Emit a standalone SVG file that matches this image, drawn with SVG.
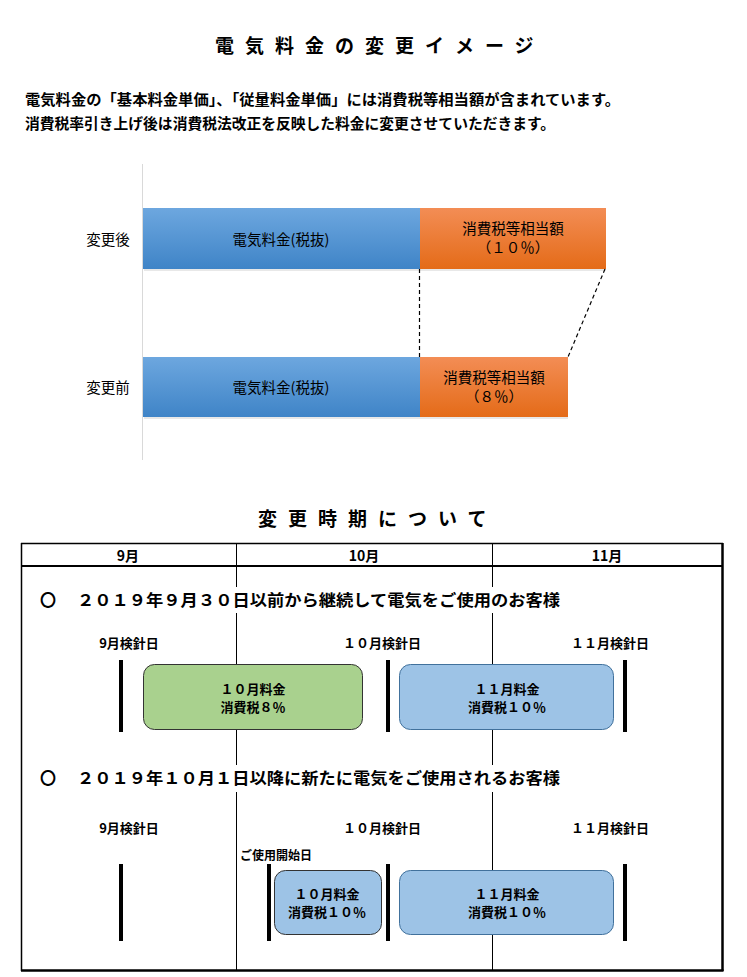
<svg xmlns="http://www.w3.org/2000/svg" width="747" height="977" viewBox="0 0 747 977">
<defs>
<linearGradient id="gBlue" x1="0" y1="0" x2="0" y2="1"><stop offset="0" stop-color="#6DA7DF"/><stop offset="1" stop-color="#3F84C7"/></linearGradient>
<linearGradient id="gOrange" x1="0" y1="0" x2="0" y2="1"><stop offset="0" stop-color="#F38D55"/><stop offset="1" stop-color="#E46B18"/></linearGradient>
<style>
text{font-family:"Noto Sans CJK JP","Noto Sans",sans-serif;fill:#000}
.title{font-size:19px;font-weight:bold;letter-spacing:11px}
.para{font-size:14.5px;font-weight:bold}
.lbl{font-size:14.5px;text-anchor:middle}
.hdr{font-size:14px;font-weight:bold;text-anchor:middle}
.row{font-size:16px;font-weight:bold}
.meter{font-size:13px;font-weight:bold;text-anchor:middle}
.box{font-size:13px;font-weight:bold;text-anchor:middle}
.thin{stroke:#000;stroke-width:1}
.bar{stroke:#000;stroke-width:4}
.dash{stroke:#000;stroke-width:1.2;stroke-dasharray:4 3;fill:none}
</style>
</defs>
<rect width="747" height="977" fill="#fff"/>

<g id="header">
<text class="title" x="215" y="53">電気料金の変更イメージ</text>
<text class="para" x="25" y="105" textLength="595" lengthAdjust="spacingAndGlyphs">電気料金の「基本料金単価」、「従量料金単価」には消費税等相当額が含まれています。</text>
<text class="para" x="25" y="129" textLength="530" lengthAdjust="spacingAndGlyphs">消費税率引き上げ後は消費税法改正を反映した料金に変更させていただきます。</text>
</g>

<g id="chart">
<line x1="142.5" y1="164" x2="142.5" y2="460" stroke="#D9D9D9" stroke-width="1"/>
<text class="lbl" x="108" y="245">変更後</text>
<text class="lbl" x="108" y="393">変更前</text>
<g id="bar-after">
<rect x="144" y="210" width="462" height="61" fill="#E8E8E8"/>
<rect x="143" y="208" width="277" height="61" fill="url(#gBlue)"/>
<rect x="420" y="208" width="186" height="61" fill="url(#gOrange)"/>
<text class="lbl" x="281" y="245">電気料金(税抜)</text>
<text class="lbl" x="513" y="234">消費税等相当額</text>
<text class="lbl" x="513" y="253">（１０％）</text>
</g>
<g id="bar-before">
<rect x="144" y="359" width="424" height="60" fill="#E8E8E8"/>
<rect x="143" y="357" width="277" height="60" fill="url(#gBlue)"/>
<rect x="420" y="357" width="148" height="60" fill="url(#gOrange)"/>
<text class="lbl" x="281" y="393">電気料金(税抜)</text>
<text class="lbl" x="494" y="383">消費税等相当額</text>
<text class="lbl" x="494" y="402">（８％）</text>
</g>
<g id="connectors">
<line class="dash" x1="419.5" y1="269" x2="419.5" y2="357"/>
<line class="dash" x1="605" y1="269" x2="568" y2="357"/>
</g>
</g>

<g id="schedule">
<text class="title" x="258" y="526">変更時期について</text>
<g id="table">
<line x1="21" y1="543.5" x2="723" y2="543.5" stroke="#000" stroke-width="1.5"/>
<line x1="21.5" y1="543" x2="21.5" y2="971" stroke="#000" stroke-width="1.5"/>
<line x1="722.5" y1="543" x2="722.5" y2="971" stroke="#000" stroke-width="2.5"/>
<line x1="21" y1="970.5" x2="723.5" y2="970.5" stroke="#000" stroke-width="2.5"/>
<line x1="21" y1="566" x2="723" y2="566" stroke="#000" stroke-width="2"/>
<line class="thin" x1="236.5" y1="543" x2="236.5" y2="587"/>
<line class="thin" x1="236.5" y1="613" x2="236.5" y2="765"/>
<line class="thin" x1="236.5" y1="792" x2="236.5" y2="970"/>
<line class="thin" x1="492.5" y1="543" x2="492.5" y2="587"/>
<line class="thin" x1="492.5" y1="613" x2="492.5" y2="765"/>
<line class="thin" x1="492.5" y1="792" x2="492.5" y2="970"/>
<text class="hdr" x="128" y="561">9月</text>
<text class="hdr" x="364" y="561">10月</text>
<text class="hdr" x="607" y="561">11月</text>
</g>

<g id="case1">
<text class="row" x="40" y="606">〇</text>
<text class="row" x="77" y="606" textLength="483" lengthAdjust="spacingAndGlyphs">２０１９年９月３０日以前から継続して電気をご使用のお客様</text>
<text class="meter" x="129" y="648">9月検針日</text>
<text class="meter" x="382" y="648">１０月検針日</text>
<text class="meter" x="610" y="648">１１月検針日</text>
<line class="bar" x1="121" y1="660" x2="121" y2="732"/>
<line class="bar" x1="388" y1="660" x2="388" y2="732"/>
<line class="bar" x1="625" y1="660" x2="625" y2="732"/>
<g id="c1-oct">
<rect x="143.5" y="664.5" width="219" height="65" rx="11" fill="#A9D18E" stroke="#333" stroke-width="1"/>
<text class="box" x="253" y="694">１０月料金</text>
<text class="box" x="253" y="712">消費税８％</text>
</g>
<g id="c1-nov">
<rect x="399.5" y="664.5" width="214" height="65" rx="11" fill="#9DC3E6" stroke="#41719C" stroke-width="1"/>
<text class="box" x="507" y="694">１１月料金</text>
<text class="box" x="507" y="712">消費税１０％</text>
</g>
</g>

<g id="case2">
<text class="row" x="40" y="784">〇</text>
<text class="row" x="77" y="784" textLength="483" lengthAdjust="spacingAndGlyphs">２０１９年１０月１日以降に新たに電気をご使用されるお客様</text>
<text class="meter" x="129" y="833">9月検針日</text>
<text class="meter" x="382" y="833">１０月検針日</text>
<text class="meter" x="610" y="833">１１月検針日</text>
<text x="240" y="860" style="font-size:12px;font-weight:bold">ご使用開始日</text>
<line class="bar" x1="121" y1="864" x2="121" y2="941"/>
<line class="bar" x1="269" y1="864" x2="269" y2="941"/>
<line class="bar" x1="388" y1="864" x2="388" y2="941"/>
<line class="bar" x1="625" y1="864" x2="625" y2="941"/>
<g id="c2-oct">
<rect x="274.5" y="870.5" width="107" height="64" rx="11" fill="#9DC3E6" stroke="#333" stroke-width="1"/>
<text class="box" x="327" y="899">１０月料金</text>
<text class="box" x="327" y="917">消費税１０％</text>
</g>
<g id="c2-nov">
<rect x="399.5" y="870.5" width="214" height="64" rx="11" fill="#9DC3E6" stroke="#41719C" stroke-width="1"/>
<text class="box" x="507" y="899">１１月料金</text>
<text class="box" x="507" y="917">消費税１０％</text>
</g>
</g>
</g>
</svg>
